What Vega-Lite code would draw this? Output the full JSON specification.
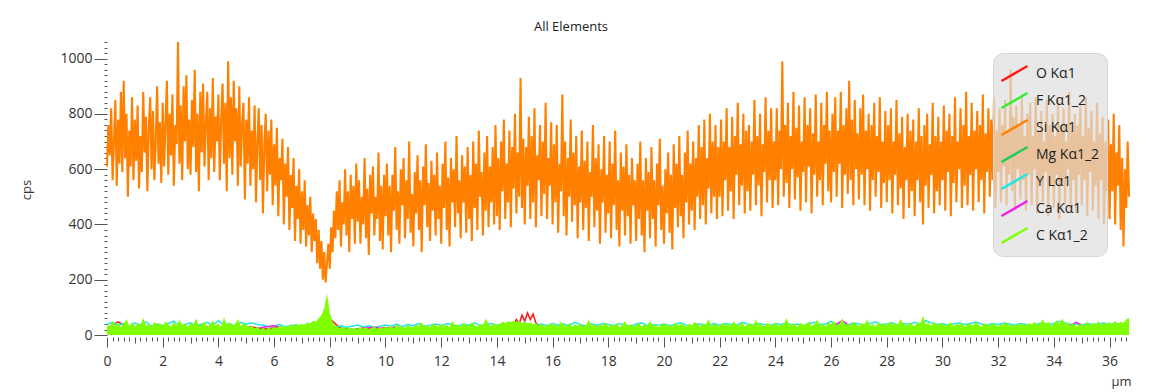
{
"$schema":"https://vega.github.io/schema/vega-lite/v6.json",
"width":1024,"height":295,
"autosize":{"type":"none"},
"padding":{"left":107,"top":42,"right":32,"bottom":55},
"background":"white",
"title":{"text":"All Elements","fontSize":13,"fontWeight":"normal","color":"#222","anchor":"middle","dx":-48,"offset":1,"font":"Open Sans"},
"config":{"view":{"stroke":null},"font":"Open Sans"},
"encoding":{
"x":{"field":"x","type":"quantitative","scale":{"domain":[0,36.77],"nice":false,"zero":false},
"axis":{"title":"µm","titleAnchor":"end","titleFontSize":13,"titleFontWeight":"normal","titleColor":"#333","titlePadding":7,"tickCount":200,"labelOverlap":false,"labelFlush":false,"domain":false,"grid":false,
"labelExpr":"abs(datum.value/2 - round(datum.value/2)) < 0.001 ? format(datum.value, 'd') : ''",
"tickSize":{"condition":[{"test":"abs(datum.value/2 - round(datum.value/2)) < 0.001","value":10},{"test":"abs(datum.value - round(datum.value)) < 0.001","value":6}],"value":4},
"tickColor":"#555","labelFontSize":14,"labelColor":"#333","labelPadding":7}},
"y":{"field":"y","type":"quantitative","scale":{"domain":[-7,1060],"nice":false,"zero":false},
"axis":{"title":"cps","titleFontSize":13,"titleFontWeight":"normal","titleColor":"#333","titlePadding":26,"tickCount":50,"labelOverlap":false,"domain":false,"grid":false,
"labelExpr":"datum.value % 200 === 0 ? format(datum.value,'d') : ''",
"tickSize":{"condition":{"test":"datum.value % 200 === 0","value":13},"value":3},
"tickColor":"#555","labelFontSize":14,"labelColor":"#333","labelPadding":2}}
},
"layer":[
{"data":{"values":[{"x":0,"y":22},{"x":1,"y":18},{"x":2,"y":26},{"x":3,"y":20},{"x":4,"y":24},{"x":5,"y":16},{"x":6,"y":22},{"x":7,"y":18},{"x":8,"y":28},{"x":9,"y":20},{"x":10,"y":16},{"x":11,"y":22},{"x":12,"y":18},{"x":13,"y":24},{"x":14,"y":20},{"x":15,"y":26},{"x":16,"y":18},{"x":17,"y":22},{"x":18,"y":20},{"x":19,"y":24},{"x":20,"y":16},{"x":21,"y":22},{"x":22,"y":26},{"x":23,"y":18},{"x":24,"y":24},{"x":25,"y":20},{"x":26,"y":22},{"x":27,"y":18},{"x":28,"y":26},{"x":29,"y":20},{"x":30,"y":24},{"x":31,"y":18},{"x":32,"y":22},{"x":33,"y":20},{"x":34,"y":26},{"x":35,"y":18},{"x":36,"y":24}]},
"mark":{"type":"line","strokeWidth":1.5},
"encoding":{"color":{"datum":"F Kα1_2","type":"nominal",
"scale":{"domain":["O Kα1","F Kα1_2","Si Kα1","Mg Kα1_2","Y Lα1","Ca Kα1","C Kα1_2"],"range":["#ff1a1a","#33ee33","#ff8000","#22cc55","#22e5e5","#ee22ee","#7fff00"]},
"legend":{"title":null,"orient":"none","legendX":886,"legendY":11,"padding":7,"cornerRadius":10,"fillColor":"rgba(222,222,222,0.7)","strokeColor":"#d6d6d6","labelFontSize":14,"labelColor":"#222","labelFont":"Open Sans","symbolType":"M-1,0.58L1,-0.58","symbolSize":676,"symbolStrokeWidth":2.5,"labelOffset":7,"clipHeight":27,"rowPadding":0,
"encode":{"symbols":{"update":{"stroke":{"scale":"color","field":"value"},"fill":{"value":"transparent"},"strokeWidth":{"value":2.5}}}}}}}},
{"data":{"values":[{"x":0,"y":18},{"x":1,"y":24},{"x":2,"y":20},{"x":3,"y":16},{"x":4,"y":22},{"x":5,"y":26},{"x":6,"y":18},{"x":7,"y":20},{"x":8,"y":30},{"x":9,"y":16},{"x":10,"y":20},{"x":11,"y":18},{"x":12,"y":24},{"x":13,"y":20},{"x":14,"y":22},{"x":15,"y":18},{"x":16,"y":26},{"x":17,"y":20},{"x":18,"y":16},{"x":19,"y":22},{"x":20,"y":24},{"x":21,"y":18},{"x":22,"y":20},{"x":23,"y":26},{"x":24,"y":18},{"x":25,"y":22},{"x":26,"y":20},{"x":27,"y":24},{"x":28,"y":18},{"x":29,"y":22},{"x":30,"y":26},{"x":31,"y":20},{"x":32,"y":18},{"x":33,"y":24},{"x":34,"y":20},{"x":35,"y":22},{"x":36,"y":18}]},
"mark":{"type":"line","strokeWidth":1.5},
"encoding":{"color":{"datum":"Mg Kα1_2","type":"nominal"}}},
{"data":{"values":[{"x":0,"y":24},{"x":0.4,"y":48},{"x":0.8,"y":22},{"x":1.2,"y":30},{"x":1.6,"y":18},{"x":2,"y":26},{"x":2.4,"y":20},{"x":2.8,"y":28},{"x":3.2,"y":22},{"x":3.6,"y":30},{"x":4,"y":18},{"x":4.4,"y":26},{"x":4.8,"y":24},{"x":5.2,"y":30},{"x":5.6,"y":20},{"x":6,"y":26},{"x":6.4,"y":22},{"x":6.8,"y":28},{"x":7.2,"y":30},{"x":7.6,"y":40},{"x":8,"y":60},{"x":8.4,"y":22},{"x":8.8,"y":18},{"x":9.2,"y":24},{"x":9.6,"y":20},{"x":10,"y":26},{"x":10.4,"y":22},{"x":10.8,"y":18},{"x":11.2,"y":24},{"x":11.6,"y":20},{"x":12,"y":26},{"x":12.4,"y":22},{"x":12.8,"y":28},{"x":13.2,"y":20},{"x":13.6,"y":24},{"x":14,"y":30},{"x":14.4,"y":34},{"x":14.5,"y":44},{"x":14.6,"y":38},{"x":14.7,"y":56},{"x":14.8,"y":40},{"x":14.9,"y":72},{"x":15,"y":50},{"x":15.1,"y":80},{"x":15.2,"y":56},{"x":15.3,"y":76},{"x":15.4,"y":44},{"x":15.5,"y":34},{"x":15.6,"y":28},{"x":16,"y":22},{"x":16.4,"y":26},{"x":16.8,"y":20},{"x":17.2,"y":24},{"x":17.6,"y":28},{"x":18,"y":22},{"x":18.4,"y":18},{"x":18.8,"y":26},{"x":19.2,"y":20},{"x":19.6,"y":24},{"x":20,"y":22},{"x":20.4,"y":28},{"x":20.8,"y":20},{"x":21.2,"y":24},{"x":21.6,"y":18},{"x":22,"y":26},{"x":22.4,"y":22},{"x":22.8,"y":28},{"x":23.2,"y":20},{"x":23.6,"y":24},{"x":24,"y":22},{"x":24.4,"y":26},{"x":24.8,"y":20},{"x":25.2,"y":28},{"x":25.6,"y":22},{"x":26,"y":24},{"x":26.4,"y":20},{"x":26.8,"y":26},{"x":27.2,"y":22},{"x":27.6,"y":28},{"x":28,"y":20},{"x":28.4,"y":24},{"x":28.8,"y":22},{"x":29.2,"y":26},{"x":29.6,"y":20},{"x":30,"y":24},{"x":30.4,"y":28},{"x":30.8,"y":22},{"x":31.2,"y":26},{"x":31.6,"y":20},{"x":32,"y":24},{"x":32.4,"y":22},{"x":32.8,"y":28},{"x":33.2,"y":20},{"x":33.6,"y":26},{"x":34,"y":22},{"x":34.4,"y":24},{"x":34.8,"y":20},{"x":35.2,"y":26},{"x":35.6,"y":22},{"x":36,"y":24},{"x":36.4,"y":20}]},
"mark":{"type":"line","strokeWidth":1.5},
"encoding":{"color":{"datum":"O Kα1","type":"nominal"}}},
{"data":{"values":[{"x":0,"y":38},{"x":0.2,"y":46},{"x":0.4,"y":34},{"x":0.6,"y":42},{"x":0.8,"y":30},{"x":1,"y":44},{"x":1.2,"y":36},{"x":1.4,"y":48},{"x":1.6,"y":32},{"x":1.8,"y":40},{"x":2,"y":34},{"x":2.2,"y":42},{"x":2.4,"y":50},{"x":2.6,"y":32},{"x":2.8,"y":38},{"x":3,"y":44},{"x":3.2,"y":30},{"x":3.4,"y":40},{"x":3.6,"y":46},{"x":3.8,"y":34},{"x":4,"y":52},{"x":4.2,"y":36},{"x":4.4,"y":42},{"x":4.6,"y":30},{"x":4.8,"y":46},{"x":5,"y":40},{"x":5.2,"y":44},{"x":5.4,"y":38},{"x":5.6,"y":36},{"x":5.8,"y":30},{"x":6,"y":32},{"x":6.2,"y":38},{"x":6.4,"y":30},{"x":6.6,"y":34},{"x":6.8,"y":36},{"x":7,"y":32},{"x":7.2,"y":40},{"x":7.4,"y":38},{"x":7.6,"y":44},{"x":7.8,"y":50},{"x":8,"y":38},{"x":8.2,"y":30},{"x":8.4,"y":34},{"x":8.6,"y":28},{"x":8.8,"y":32},{"x":9,"y":36},{"x":9.2,"y":30},{"x":9.4,"y":34},{"x":9.6,"y":28},{"x":9.8,"y":32},{"x":10,"y":36},{"x":10.2,"y":32},{"x":10.4,"y":40},{"x":10.6,"y":30},{"x":10.8,"y":38},{"x":11,"y":34},{"x":11.2,"y":42},{"x":11.4,"y":32},{"x":11.6,"y":36},{"x":11.8,"y":40},{"x":12,"y":34},{"x":12.2,"y":42},{"x":12.4,"y":38},{"x":12.6,"y":32},{"x":12.8,"y":40},{"x":13,"y":36},{"x":13.2,"y":44},{"x":13.4,"y":34},{"x":13.6,"y":38},{"x":13.8,"y":42},{"x":14,"y":36},{"x":14.2,"y":40},{"x":14.4,"y":38},{"x":14.6,"y":42},{"x":14.8,"y":34},{"x":15,"y":38},{"x":15.2,"y":32},{"x":15.4,"y":36},{"x":15.6,"y":40},{"x":15.8,"y":34},{"x":16,"y":42},{"x":16.2,"y":36},{"x":16.4,"y":40},{"x":16.6,"y":34},{"x":16.8,"y":46},{"x":17,"y":38},{"x":17.2,"y":32},{"x":17.4,"y":40},{"x":17.6,"y":36},{"x":17.8,"y":42},{"x":18,"y":38},{"x":18.2,"y":34},{"x":18.4,"y":42},{"x":18.6,"y":36},{"x":18.8,"y":32},{"x":19,"y":40},{"x":19.2,"y":44},{"x":19.4,"y":34},{"x":19.6,"y":38},{"x":19.8,"y":36},{"x":20,"y":40},{"x":20.2,"y":34},{"x":20.4,"y":38},{"x":20.6,"y":44},{"x":20.8,"y":36},{"x":21,"y":32},{"x":21.2,"y":40},{"x":21.4,"y":38},{"x":21.6,"y":34},{"x":21.8,"y":42},{"x":22,"y":36},{"x":22.2,"y":42},{"x":22.4,"y":38},{"x":22.6,"y":34},{"x":22.8,"y":46},{"x":23,"y":40},{"x":23.2,"y":36},{"x":23.4,"y":42},{"x":23.6,"y":38},{"x":23.8,"y":34},{"x":24,"y":42},{"x":24.2,"y":38},{"x":24.4,"y":44},{"x":24.6,"y":36},{"x":24.8,"y":40},{"x":25,"y":34},{"x":25.2,"y":42},{"x":25.4,"y":46},{"x":25.6,"y":38},{"x":25.8,"y":40},{"x":26,"y":50},{"x":26.2,"y":38},{"x":26.4,"y":42},{"x":26.6,"y":36},{"x":26.8,"y":44},{"x":27,"y":40},{"x":27.2,"y":34},{"x":27.4,"y":42},{"x":27.6,"y":48},{"x":27.8,"y":38},{"x":28,"y":40},{"x":28.2,"y":44},{"x":28.4,"y":36},{"x":28.6,"y":42},{"x":28.8,"y":38},{"x":29,"y":46},{"x":29.2,"y":40},{"x":29.4,"y":52},{"x":29.6,"y":44},{"x":29.8,"y":38},{"x":30,"y":42},{"x":30.2,"y":36},{"x":30.4,"y":40},{"x":30.6,"y":44},{"x":30.8,"y":38},{"x":31,"y":42},{"x":31.2,"y":46},{"x":31.4,"y":40},{"x":31.6,"y":36},{"x":31.8,"y":42},{"x":32,"y":38},{"x":32.2,"y":44},{"x":32.4,"y":40},{"x":32.6,"y":36},{"x":32.8,"y":42},{"x":33,"y":38},{"x":33.2,"y":34},{"x":33.4,"y":40},{"x":33.6,"y":44},{"x":33.8,"y":38},{"x":34,"y":42},{"x":34.2,"y":50},{"x":34.4,"y":44},{"x":34.6,"y":38},{"x":34.8,"y":40},{"x":35,"y":36},{"x":35.2,"y":42},{"x":35.4,"y":38},{"x":35.6,"y":40},{"x":35.8,"y":44},{"x":36,"y":38},{"x":36.2,"y":42},{"x":36.4,"y":40},{"x":36.6,"y":44}]},
"mark":{"type":"line","strokeWidth":1.5},
"encoding":{"color":{"datum":"Y Lα1","type":"nominal"}}},
{"data":{"values":[{"x":0,"y":20},{"x":0.4,"y":26},{"x":0.8,"y":18},{"x":1.2,"y":30},{"x":1.6,"y":22},{"x":2,"y":28},{"x":2.4,"y":16},{"x":2.8,"y":24},{"x":3.2,"y":30},{"x":3.6,"y":20},{"x":4,"y":26},{"x":4.4,"y":22},{"x":4.8,"y":30},{"x":5.2,"y":18},{"x":5.6,"y":28},{"x":6,"y":34},{"x":6.4,"y":24},{"x":6.8,"y":20},{"x":7.2,"y":26},{"x":7.6,"y":22},{"x":8,"y":20},{"x":8.4,"y":24},{"x":8.8,"y":18},{"x":9.2,"y":26},{"x":9.6,"y":28},{"x":10,"y":22},{"x":10.4,"y":30},{"x":10.8,"y":20},{"x":11.2,"y":24},{"x":11.6,"y":18},{"x":12,"y":24},{"x":12.4,"y":20},{"x":12.8,"y":28},{"x":13.2,"y":22},{"x":13.6,"y":18},{"x":14,"y":26},{"x":14.4,"y":20},{"x":14.8,"y":24},{"x":15.2,"y":28},{"x":15.6,"y":22},{"x":16,"y":26},{"x":16.4,"y":20},{"x":16.8,"y":24},{"x":17.2,"y":30},{"x":17.6,"y":22},{"x":18,"y":18},{"x":18.4,"y":26},{"x":18.8,"y":24},{"x":19.2,"y":20},{"x":19.6,"y":28},{"x":20,"y":22},{"x":20.4,"y":26},{"x":20.8,"y":20},{"x":21.2,"y":24},{"x":21.6,"y":30},{"x":22,"y":22},{"x":22.4,"y":26},{"x":22.8,"y":18},{"x":23.2,"y":24},{"x":23.6,"y":28},{"x":24,"y":20},{"x":24.4,"y":26},{"x":24.8,"y":24},{"x":25.2,"y":28},{"x":25.6,"y":22},{"x":26,"y":28},{"x":26.4,"y":52},{"x":26.8,"y":24},{"x":27.2,"y":30},{"x":27.6,"y":22},{"x":28,"y":26},{"x":28.4,"y":20},{"x":28.8,"y":28},{"x":29.2,"y":24},{"x":29.6,"y":22},{"x":30,"y":30},{"x":30.4,"y":26},{"x":30.8,"y":20},{"x":31.2,"y":24},{"x":31.6,"y":28},{"x":32,"y":22},{"x":32.4,"y":26},{"x":32.8,"y":30},{"x":33.2,"y":20},{"x":33.6,"y":24},{"x":34,"y":28},{"x":34.4,"y":22},{"x":34.8,"y":46},{"x":35.2,"y":26},{"x":35.6,"y":20},{"x":36,"y":24},{"x":36.4,"y":28}]},
"mark":{"type":"line","strokeWidth":1.5},
"encoding":{"color":{"datum":"Ca Kα1","type":"nominal"}}},
{"data":{"values":[{"x":0,"y":38},{"x":0.1,"y":30},{"x":0.2,"y":52},{"x":0.3,"y":34},{"x":0.4,"y":44},{"x":0.5,"y":28},{"x":0.6,"y":40},{"x":0.7,"y":58},{"x":0.8,"y":32},{"x":0.9,"y":46},
{"x":1,"y":30},{"x":1.1,"y":42},{"x":1.2,"y":36},{"x":1.3,"y":62},{"x":1.4,"y":34},{"x":1.5,"y":40},{"x":1.6,"y":28},{"x":1.7,"y":48},{"x":1.8,"y":36},{"x":1.9,"y":44},
{"x":2,"y":32},{"x":2.1,"y":50},{"x":2.2,"y":38},{"x":2.3,"y":30},{"x":2.4,"y":46},{"x":2.5,"y":34},{"x":2.6,"y":56},{"x":2.7,"y":36},{"x":2.8,"y":42},{"x":2.9,"y":30},
{"x":3,"y":44},{"x":3.1,"y":36},{"x":3.2,"y":60},{"x":3.3,"y":32},{"x":3.4,"y":40},{"x":3.5,"y":48},{"x":3.6,"y":30},{"x":3.7,"y":38},{"x":3.8,"y":54},{"x":3.9,"y":34},
{"x":4,"y":42},{"x":4.1,"y":30},{"x":4.2,"y":64},{"x":4.3,"y":36},{"x":4.4,"y":46},{"x":4.5,"y":34},{"x":4.6,"y":40},{"x":4.7,"y":58},{"x":4.8,"y":32},{"x":4.9,"y":44},
{"x":5,"y":36},{"x":5.1,"y":28},{"x":5.2,"y":34},{"x":5.3,"y":24},{"x":5.4,"y":30},{"x":5.5,"y":20},{"x":5.6,"y":26},{"x":5.7,"y":18},{"x":5.8,"y":28},{"x":5.9,"y":22},
{"x":6,"y":30},{"x":6.1,"y":24},{"x":6.2,"y":36},{"x":6.3,"y":28},{"x":6.4,"y":34},{"x":6.5,"y":30},{"x":6.6,"y":40},{"x":6.7,"y":32},{"x":6.8,"y":38},{"x":6.9,"y":36},
{"x":7,"y":40},{"x":7.1,"y":36},{"x":7.2,"y":46},{"x":7.3,"y":42},{"x":7.4,"y":52},{"x":7.5,"y":48},{"x":7.6,"y":60},{"x":7.7,"y":72},{"x":7.8,"y":96},{"x":7.9,"y":150},
{"x":8,"y":80},{"x":8.1,"y":50},{"x":8.2,"y":34},{"x":8.3,"y":28},{"x":8.4,"y":24},{"x":8.5,"y":30},{"x":8.6,"y":22},{"x":8.7,"y":28},{"x":8.8,"y":20},{"x":8.9,"y":26},
{"x":9,"y":22},{"x":9.1,"y":30},{"x":9.2,"y":24},{"x":9.3,"y":28},{"x":9.4,"y":20},{"x":9.5,"y":26},{"x":9.6,"y":32},{"x":9.7,"y":22},{"x":9.8,"y":28},{"x":9.9,"y":24},
{"x":10,"y":30},{"x":10.1,"y":26},{"x":10.2,"y":34},{"x":10.3,"y":24},{"x":10.4,"y":40},{"x":10.5,"y":28},{"x":10.6,"y":32},{"x":10.7,"y":26},{"x":10.8,"y":36},{"x":10.9,"y":30},
{"x":11,"y":28},{"x":11.1,"y":38},{"x":11.2,"y":32},{"x":11.3,"y":46},{"x":11.4,"y":30},{"x":11.5,"y":36},{"x":11.6,"y":28},{"x":11.7,"y":42},{"x":11.8,"y":34},{"x":11.9,"y":30},
{"x":12,"y":40},{"x":12.1,"y":32},{"x":12.2,"y":36},{"x":12.3,"y":28},{"x":12.4,"y":52},{"x":12.5,"y":34},{"x":12.6,"y":38},{"x":12.7,"y":30},{"x":12.8,"y":44},{"x":12.9,"y":36},
{"x":13,"y":32},{"x":13.1,"y":46},{"x":13.2,"y":36},{"x":13.3,"y":30},{"x":13.4,"y":40},{"x":13.5,"y":34},{"x":13.6,"y":60},{"x":13.7,"y":38},{"x":13.8,"y":32},{"x":13.9,"y":42},
{"x":14,"y":36},{"x":14.1,"y":40},{"x":14.2,"y":48},{"x":14.3,"y":44},{"x":14.4,"y":50},{"x":14.5,"y":46},{"x":14.6,"y":52},{"x":14.7,"y":48},{"x":14.8,"y":50},{"x":14.9,"y":44},
{"x":15,"y":48},{"x":15.1,"y":42},{"x":15.2,"y":46},{"x":15.3,"y":38},{"x":15.4,"y":44},{"x":15.5,"y":34},{"x":15.6,"y":40},{"x":15.7,"y":30},{"x":15.8,"y":36},{"x":15.9,"y":42},
{"x":16,"y":34},{"x":16.1,"y":40},{"x":16.2,"y":30},{"x":16.3,"y":48},{"x":16.4,"y":36},{"x":16.5,"y":32},{"x":16.6,"y":44},{"x":16.7,"y":30},{"x":16.8,"y":38},{"x":16.9,"y":34},
{"x":17,"y":42},{"x":17.1,"y":30},{"x":17.2,"y":36},{"x":17.3,"y":56},{"x":17.4,"y":32},{"x":17.5,"y":40},{"x":17.6,"y":28},{"x":17.7,"y":38},{"x":17.8,"y":34},{"x":17.9,"y":46},
{"x":18,"y":30},{"x":18.1,"y":38},{"x":18.2,"y":34},{"x":18.3,"y":42},{"x":18.4,"y":28},{"x":18.5,"y":36},{"x":18.6,"y":50},{"x":18.7,"y":32},{"x":18.8,"y":40},{"x":18.9,"y":30},
{"x":19,"y":36},{"x":19.1,"y":44},{"x":19.2,"y":30},{"x":19.3,"y":38},{"x":19.4,"y":34},{"x":19.5,"y":52},{"x":19.6,"y":32},{"x":19.7,"y":40},{"x":19.8,"y":28},{"x":19.9,"y":36},
{"x":20,"y":44},{"x":20.1,"y":32},{"x":20.2,"y":38},{"x":20.3,"y":30},{"x":20.4,"y":46},{"x":20.5,"y":34},{"x":20.6,"y":40},{"x":20.7,"y":36},{"x":20.8,"y":30},{"x":20.9,"y":42},
{"x":21,"y":34},{"x":21.1,"y":48},{"x":21.2,"y":38},{"x":21.3,"y":30},{"x":21.4,"y":42},{"x":21.5,"y":36},{"x":21.6,"y":58},{"x":21.7,"y":32},{"x":21.8,"y":40},{"x":21.9,"y":36},
{"x":22,"y":30},{"x":22.1,"y":44},{"x":22.2,"y":36},{"x":22.3,"y":40},{"x":22.4,"y":32},{"x":22.5,"y":50},{"x":22.6,"y":38},{"x":22.7,"y":34},{"x":22.8,"y":46},{"x":22.9,"y":30},
{"x":23,"y":38},{"x":23.1,"y":42},{"x":23.2,"y":34},{"x":23.3,"y":56},{"x":23.4,"y":36},{"x":23.5,"y":40},{"x":23.6,"y":30},{"x":23.7,"y":44},{"x":23.8,"y":38},{"x":23.9,"y":34},
{"x":24,"y":46},{"x":24.1,"y":32},{"x":24.2,"y":40},{"x":24.3,"y":36},{"x":24.4,"y":62},{"x":24.5,"y":34},{"x":24.6,"y":42},{"x":24.7,"y":38},{"x":24.8,"y":30},{"x":24.9,"y":44},
{"x":25,"y":36},{"x":25.1,"y":40},{"x":25.2,"y":48},{"x":25.3,"y":32},{"x":25.4,"y":38},{"x":25.5,"y":56},{"x":25.6,"y":34},{"x":25.7,"y":42},{"x":25.8,"y":30},{"x":25.9,"y":46},
{"x":26,"y":38},{"x":26.1,"y":52},{"x":26.2,"y":34},{"x":26.3,"y":40},{"x":26.4,"y":60},{"x":26.5,"y":36},{"x":26.6,"y":42},{"x":26.7,"y":34},{"x":26.8,"y":48},{"x":26.9,"y":38},
{"x":27,"y":32},{"x":27.1,"y":44},{"x":27.2,"y":38},{"x":27.3,"y":56},{"x":27.4,"y":34},{"x":27.5,"y":40},{"x":27.6,"y":30},{"x":27.7,"y":46},{"x":27.8,"y":36},{"x":27.9,"y":42},
{"x":28,"y":34},{"x":28.1,"y":48},{"x":28.2,"y":38},{"x":28.3,"y":42},{"x":28.4,"y":36},{"x":28.5,"y":58},{"x":28.6,"y":40},{"x":28.7,"y":34},{"x":28.8,"y":44},{"x":28.9,"y":38},
{"x":29,"y":32},{"x":29.1,"y":46},{"x":29.2,"y":40},{"x":29.3,"y":70},{"x":29.4,"y":38},{"x":29.5,"y":44},{"x":29.6,"y":34},{"x":29.7,"y":48},{"x":29.8,"y":36},{"x":29.9,"y":40},
{"x":30,"y":42},{"x":30.1,"y":34},{"x":30.2,"y":38},{"x":30.3,"y":46},{"x":30.4,"y":32},{"x":30.5,"y":40},{"x":30.6,"y":36},{"x":30.7,"y":44},{"x":30.8,"y":30},{"x":30.9,"y":38},
{"x":31,"y":40},{"x":31.1,"y":34},{"x":31.2,"y":46},{"x":31.3,"y":36},{"x":31.4,"y":30},{"x":31.5,"y":42},{"x":31.6,"y":38},{"x":31.7,"y":34},{"x":31.8,"y":44},{"x":31.9,"y":36},
{"x":32,"y":32},{"x":32.1,"y":40},{"x":32.2,"y":36},{"x":32.3,"y":46},{"x":32.4,"y":34},{"x":32.5,"y":38},{"x":32.6,"y":30},{"x":32.7,"y":42},{"x":32.8,"y":36},{"x":32.9,"y":40},
{"x":33,"y":34},{"x":33.1,"y":44},{"x":33.2,"y":38},{"x":33.3,"y":48},{"x":33.4,"y":36},{"x":33.5,"y":42},{"x":33.6,"y":56},{"x":33.7,"y":40},{"x":33.8,"y":48},{"x":33.9,"y":34},
{"x":34,"y":42},{"x":34.1,"y":54},{"x":34.2,"y":40},{"x":34.3,"y":60},{"x":34.4,"y":38},{"x":34.5,"y":46},{"x":34.6,"y":34},{"x":34.7,"y":44},{"x":34.8,"y":30},{"x":34.9,"y":38},
{"x":35,"y":40},{"x":35.1,"y":34},{"x":35.2,"y":48},{"x":35.3,"y":36},{"x":35.4,"y":42},{"x":35.5,"y":38},{"x":35.6,"y":50},{"x":35.7,"y":36},{"x":35.8,"y":44},{"x":35.9,"y":40},
{"x":36,"y":46},{"x":36.1,"y":38},{"x":36.2,"y":52},{"x":36.3,"y":40},{"x":36.4,"y":48},{"x":36.5,"y":44},{"x":36.6,"y":56},{"x":36.7,"y":62}]},
"mark":{"type":"area"},
"encoding":{"color":{"datum":"C Kα1_2","type":"nominal"}}},
{"data":{"values":[
{"x":0,"y":610},{"x":0.05,"y":760},{"x":0.1,"y":650},{"x":0.15,"y":820},{"x":0.2,"y":560},{"x":0.25,"y":700},{"x":0.3,"y":850},{"x":0.35,"y":540},{"x":0.4,"y":780},{"x":0.45,"y":620},{"x":0.5,"y":880},{"x":0.55,"y":590},{"x":0.6,"y":920},{"x":0.65,"y":640},{"x":0.7,"y":800},{"x":0.75,"y":500},{"x":0.8,"y":740},{"x":0.85,"y":610},{"x":0.9,"y":860},{"x":0.95,"y":560},
{"x":1,"y":780},{"x":1.05,"y":630},{"x":1.1,"y":830},{"x":1.15,"y":530},{"x":1.2,"y":720},{"x":1.25,"y":590},{"x":1.3,"y":880},{"x":1.35,"y":660},{"x":1.4,"y":790},{"x":1.45,"y":520},{"x":1.5,"y":750},{"x":1.55,"y":860},{"x":1.6,"y":600},{"x":1.65,"y":810},{"x":1.7,"y":560},{"x":1.75,"y":700},{"x":1.8,"y":900},{"x":1.85,"y":620},{"x":1.9,"y":770},{"x":1.95,"y":550},
{"x":2,"y":840},{"x":2.05,"y":610},{"x":2.1,"y":760},{"x":2.15,"y":920},{"x":2.2,"y":580},{"x":2.25,"y":800},{"x":2.3,"y":650},{"x":2.35,"y":870},{"x":2.4,"y":540},{"x":2.45,"y":760},{"x":2.5,"y":690},{"x":2.55,"y":1060},{"x":2.6,"y":620},{"x":2.65,"y":830},{"x":2.7,"y":560},{"x":2.75,"y":900},{"x":2.8,"y":700},{"x":2.85,"y":940},{"x":2.9,"y":600},{"x":2.95,"y":780},
{"x":3,"y":580},{"x":3.05,"y":850},{"x":3.1,"y":680},{"x":3.15,"y":960},{"x":3.2,"y":590},{"x":3.25,"y":800},{"x":3.3,"y":520},{"x":3.35,"y":880},{"x":3.4,"y":660},{"x":3.45,"y":910},{"x":3.5,"y":610},{"x":3.55,"y":760},{"x":3.6,"y":880},{"x":3.65,"y":560},{"x":3.7,"y":820},{"x":3.75,"y":640},{"x":3.8,"y":930},{"x":3.85,"y":590},{"x":3.9,"y":790},{"x":3.95,"y":700},
{"x":4,"y":870},{"x":4.05,"y":560},{"x":4.1,"y":780},{"x":4.15,"y":910},{"x":4.2,"y":620},{"x":4.25,"y":840},{"x":4.3,"y":520},{"x":4.35,"y":990},{"x":4.4,"y":640},{"x":4.45,"y":860},{"x":4.5,"y":580},{"x":4.55,"y":920},{"x":4.6,"y":700},{"x":4.65,"y":820},{"x":4.7,"y":540},{"x":4.75,"y":900},{"x":4.8,"y":610},{"x":4.85,"y":760},{"x":4.9,"y":840},{"x":4.95,"y":490},
{"x":5,"y":780},{"x":5.05,"y":620},{"x":5.1,"y":860},{"x":5.15,"y":540},{"x":5.2,"y":740},{"x":5.25,"y":600},{"x":5.3,"y":830},{"x":5.35,"y":480},{"x":5.4,"y":700},{"x":5.45,"y":820},{"x":5.5,"y":560},{"x":5.55,"y":760},{"x":5.6,"y":440},{"x":5.65,"y":690},{"x":5.7,"y":800},{"x":5.75,"y":520},{"x":5.8,"y":740},{"x":5.85,"y":580},{"x":5.9,"y":780},{"x":5.95,"y":470},
{"x":6,"y":690},{"x":6.05,"y":540},{"x":6.1,"y":750},{"x":6.15,"y":430},{"x":6.2,"y":640},{"x":6.25,"y":560},{"x":6.3,"y":710},{"x":6.35,"y":400},{"x":6.4,"y":620},{"x":6.45,"y":500},{"x":6.5,"y":680},{"x":6.55,"y":380},{"x":6.6,"y":580},{"x":6.65,"y":460},{"x":6.7,"y":640},{"x":6.75,"y":340},{"x":6.8,"y":540},{"x":6.85,"y":420},{"x":6.9,"y":600},{"x":6.95,"y":330},
{"x":7,"y":520},{"x":7.05,"y":380},{"x":7.1,"y":560},{"x":7.15,"y":320},{"x":7.2,"y":470},{"x":7.25,"y":360},{"x":7.3,"y":500},{"x":7.35,"y":300},{"x":7.4,"y":440},{"x":7.45,"y":340},{"x":7.5,"y":420},{"x":7.55,"y":260},{"x":7.6,"y":380},{"x":7.65,"y":240},{"x":7.7,"y":340},{"x":7.75,"y":200},{"x":7.8,"y":300},{"x":7.85,"y":190},{"x":7.9,"y":260},{"x":7.95,"y":330},
{"x":8,"y":240},{"x":8.05,"y":390},{"x":8.1,"y":300},{"x":8.15,"y":450},{"x":8.2,"y":350},{"x":8.25,"y":520},{"x":8.3,"y":380},{"x":8.35,"y":560},{"x":8.4,"y":320},{"x":8.45,"y":480},{"x":8.5,"y":400},{"x":8.55,"y":600},{"x":8.6,"y":360},{"x":8.65,"y":520},{"x":8.7,"y":300},{"x":8.75,"y":580},{"x":8.8,"y":420},{"x":8.85,"y":540},{"x":8.9,"y":330},{"x":8.95,"y":620},
{"x":9,"y":410},{"x":9.05,"y":560},{"x":9.1,"y":330},{"x":9.15,"y":500},{"x":9.2,"y":400},{"x":9.25,"y":640},{"x":9.3,"y":350},{"x":9.35,"y":530},{"x":9.4,"y":290},{"x":9.45,"y":580},{"x":9.5,"y":440},{"x":9.55,"y":610},{"x":9.6,"y":360},{"x":9.65,"y":500},{"x":9.7,"y":420},{"x":9.75,"y":660},{"x":9.8,"y":340},{"x":9.85,"y":540},{"x":9.9,"y":310},{"x":9.95,"y":580},
{"x":10,"y":430},{"x":10.05,"y":620},{"x":10.1,"y":360},{"x":10.15,"y":540},{"x":10.2,"y":300},{"x":10.25,"y":580},{"x":10.3,"y":450},{"x":10.35,"y":680},{"x":10.4,"y":380},{"x":10.45,"y":520},{"x":10.5,"y":330},{"x":10.55,"y":600},{"x":10.6,"y":470},{"x":10.65,"y":640},{"x":10.7,"y":350},{"x":10.75,"y":560},{"x":10.8,"y":420},{"x":10.85,"y":700},{"x":10.9,"y":370},{"x":10.95,"y":510},
{"x":11,"y":320},{"x":11.05,"y":590},{"x":11.1,"y":440},{"x":11.15,"y":650},{"x":11.2,"y":380},{"x":11.25,"y":560},{"x":11.3,"y":300},{"x":11.35,"y":610},{"x":11.4,"y":470},{"x":11.45,"y":690},{"x":11.5,"y":390},{"x":11.55,"y":550},{"x":11.6,"y":340},{"x":11.65,"y":630},{"x":11.7,"y":450},{"x":11.75,"y":580},{"x":11.8,"y":360},{"x":11.85,"y":660},{"x":11.9,"y":420},{"x":11.95,"y":540},
{"x":12,"y":330},{"x":12.05,"y":620},{"x":12.1,"y":460},{"x":12.15,"y":700},{"x":12.2,"y":380},{"x":12.25,"y":570},{"x":12.3,"y":320},{"x":12.35,"y":640},{"x":12.4,"y":480},{"x":12.45,"y":600},{"x":12.5,"y":390},{"x":12.55,"y":720},{"x":12.6,"y":440},{"x":12.65,"y":560},{"x":12.7,"y":350},{"x":12.75,"y":650},{"x":12.8,"y":480},{"x":12.85,"y":610},{"x":12.9,"y":370},{"x":12.95,"y":680},
{"x":13,"y":420},{"x":13.05,"y":580},{"x":13.1,"y":340},{"x":13.15,"y":700},{"x":13.2,"y":460},{"x":13.25,"y":620},{"x":13.3,"y":380},{"x":13.35,"y":740},{"x":13.4,"y":500},{"x":13.45,"y":590},{"x":13.5,"y":360},{"x":13.55,"y":660},{"x":13.6,"y":450},{"x":13.65,"y":720},{"x":13.7,"y":390},{"x":13.75,"y":610},{"x":13.8,"y":480},{"x":13.85,"y":680},{"x":13.9,"y":400},{"x":13.95,"y":760},
{"x":14,"y":430},{"x":14.05,"y":640},{"x":14.1,"y":380},{"x":14.15,"y":700},{"x":14.2,"y":520},{"x":14.25,"y":780},{"x":14.3,"y":420},{"x":14.35,"y":620},{"x":14.4,"y":480},{"x":14.45,"y":740},{"x":14.5,"y":390},{"x":14.55,"y":680},{"x":14.6,"y":530},{"x":14.65,"y":800},{"x":14.7,"y":440},{"x":14.75,"y":660},{"x":14.8,"y":500},{"x":14.85,"y":930},{"x":14.9,"y":460},{"x":14.95,"y":710},
{"x":15,"y":400},{"x":15.05,"y":680},{"x":15.1,"y":540},{"x":15.15,"y":790},{"x":15.2,"y":420},{"x":15.25,"y":720},{"x":15.3,"y":480},{"x":15.35,"y":820},{"x":15.4,"y":390},{"x":15.45,"y":650},{"x":15.5,"y":560},{"x":15.55,"y":760},{"x":15.6,"y":430},{"x":15.65,"y":700},{"x":15.7,"y":510},{"x":15.75,"y":840},{"x":15.8,"y":420},{"x":15.85,"y":640},{"x":15.9,"y":540},{"x":15.95,"y":770},
{"x":16,"y":400},{"x":16.05,"y":690},{"x":16.1,"y":480},{"x":16.15,"y":760},{"x":16.2,"y":370},{"x":16.25,"y":620},{"x":16.3,"y":520},{"x":16.35,"y":870},{"x":16.4,"y":430},{"x":16.45,"y":700},{"x":16.5,"y":360},{"x":16.55,"y":640},{"x":16.6,"y":500},{"x":16.65,"y":780},{"x":16.7,"y":410},{"x":16.75,"y":660},{"x":16.8,"y":470},{"x":16.85,"y":720},{"x":16.9,"y":350},{"x":16.95,"y":610},
{"x":17,"y":480},{"x":17.05,"y":740},{"x":17.1,"y":380},{"x":17.15,"y":630},{"x":17.2,"y":460},{"x":17.25,"y":700},{"x":17.3,"y":340},{"x":17.35,"y":590},{"x":17.4,"y":500},{"x":17.45,"y":760},{"x":17.5,"y":390},{"x":17.55,"y":640},{"x":17.6,"y":450},{"x":17.65,"y":690},{"x":17.7,"y":330},{"x":17.75,"y":600},{"x":17.8,"y":480},{"x":17.85,"y":720},{"x":17.9,"y":370},{"x":17.95,"y":580},
{"x":18,"y":440},{"x":18.05,"y":700},{"x":18.1,"y":350},{"x":18.15,"y":620},{"x":18.2,"y":470},{"x":18.25,"y":740},{"x":18.3,"y":380},{"x":18.35,"y":560},{"x":18.4,"y":320},{"x":18.45,"y":660},{"x":18.5,"y":450},{"x":18.55,"y":610},{"x":18.6,"y":360},{"x":18.65,"y":690},{"x":18.7,"y":430},{"x":18.75,"y":580},{"x":18.8,"y":330},{"x":18.85,"y":640},{"x":18.9,"y":470},{"x":18.95,"y":560},
{"x":19,"y":340},{"x":19.05,"y":620},{"x":19.1,"y":420},{"x":19.15,"y":700},{"x":19.2,"y":360},{"x":19.25,"y":560},{"x":19.3,"y":300},{"x":19.35,"y":640},{"x":19.4,"y":450},{"x":19.45,"y":590},{"x":19.5,"y":350},{"x":19.55,"y":680},{"x":19.6,"y":420},{"x":19.65,"y":560},{"x":19.7,"y":320},{"x":19.75,"y":620},{"x":19.8,"y":470},{"x":19.85,"y":710},{"x":19.9,"y":380},{"x":19.95,"y":540},
{"x":20,"y":330},{"x":20.05,"y":600},{"x":20.1,"y":440},{"x":20.15,"y":660},{"x":20.2,"y":370},{"x":20.25,"y":580},{"x":20.3,"y":310},{"x":20.35,"y":690},{"x":20.4,"y":460},{"x":20.45,"y":620},{"x":20.5,"y":390},{"x":20.55,"y":720},{"x":20.6,"y":430},{"x":20.65,"y":580},{"x":20.7,"y":350},{"x":20.75,"y":660},{"x":20.8,"y":480},{"x":20.85,"y":740},{"x":20.9,"y":400},{"x":20.95,"y":620},
{"x":21,"y":450},{"x":21.05,"y":700},{"x":21.1,"y":380},{"x":21.15,"y":640},{"x":21.2,"y":500},{"x":21.25,"y":760},{"x":21.3,"y":420},{"x":21.35,"y":680},{"x":21.4,"y":470},{"x":21.45,"y":780},{"x":21.5,"y":400},{"x":21.55,"y":640},{"x":21.6,"y":530},{"x":21.65,"y":800},{"x":21.7,"y":440},{"x":21.75,"y":700},{"x":21.8,"y":500},{"x":21.85,"y":760},{"x":21.9,"y":420},{"x":21.95,"y":680},
{"x":22,"y":500},{"x":22.05,"y":780},{"x":22.1,"y":430},{"x":22.15,"y":700},{"x":22.2,"y":560},{"x":22.25,"y":820},{"x":22.3,"y":450},{"x":22.35,"y":680},{"x":22.4,"y":520},{"x":22.45,"y":790},{"x":22.5,"y":420},{"x":22.55,"y":720},{"x":22.6,"y":580},{"x":22.65,"y":840},{"x":22.7,"y":470},{"x":22.75,"y":690},{"x":22.8,"y":540},{"x":22.85,"y":800},{"x":22.9,"y":440},{"x":22.95,"y":740},
{"x":23,"y":520},{"x":23.05,"y":760},{"x":23.1,"y":450},{"x":23.15,"y":700},{"x":23.2,"y":580},{"x":23.25,"y":850},{"x":23.3,"y":470},{"x":23.35,"y":720},{"x":23.4,"y":540},{"x":23.45,"y":800},{"x":23.5,"y":430},{"x":23.55,"y":690},{"x":23.6,"y":590},{"x":23.65,"y":860},{"x":23.7,"y":480},{"x":23.75,"y":740},{"x":23.8,"y":560},{"x":23.85,"y":820},{"x":23.9,"y":460},{"x":23.95,"y":700},
{"x":24,"y":560},{"x":24.05,"y":820},{"x":24.1,"y":470},{"x":24.15,"y":740},{"x":24.2,"y":600},{"x":24.25,"y":990},{"x":24.3,"y":500},{"x":24.35,"y":760},{"x":24.4,"y":550},{"x":24.45,"y":840},{"x":24.5,"y":460},{"x":24.55,"y":720},{"x":24.6,"y":600},{"x":24.65,"y":880},{"x":24.7,"y":490},{"x":24.75,"y":750},{"x":24.8,"y":570},{"x":24.85,"y":830},{"x":24.9,"y":450},{"x":24.95,"y":700},
{"x":25,"y":590},{"x":25.05,"y":860},{"x":25.1,"y":480},{"x":25.15,"y":760},{"x":25.2,"y":610},{"x":25.25,"y":820},{"x":25.3,"y":440},{"x":25.35,"y":730},{"x":25.4,"y":580},{"x":25.45,"y":870},{"x":25.5,"y":500},{"x":25.55,"y":700},{"x":25.6,"y":560},{"x":25.65,"y":840},{"x":25.7,"y":470},{"x":25.75,"y":760},{"x":25.8,"y":620},{"x":25.85,"y":880},{"x":25.9,"y":520},{"x":25.95,"y":740},
{"x":26,"y":480},{"x":26.05,"y":800},{"x":26.1,"y":590},{"x":26.15,"y":860},{"x":26.2,"y":500},{"x":26.25,"y":740},{"x":26.3,"y":620},{"x":26.35,"y":880},{"x":26.4,"y":460},{"x":26.45,"y":760},{"x":26.5,"y":580},{"x":26.55,"y":820},{"x":26.6,"y":510},{"x":26.65,"y":920},{"x":26.7,"y":560},{"x":26.75,"y":780},{"x":26.8,"y":470},{"x":26.85,"y":850},{"x":26.9,"y":600},{"x":26.95,"y":730},
{"x":27,"y":490},{"x":27.05,"y":820},{"x":27.1,"y":580},{"x":27.15,"y":870},{"x":27.2,"y":470},{"x":27.25,"y":740},{"x":27.3,"y":600},{"x":27.35,"y":800},{"x":27.4,"y":450},{"x":27.45,"y":760},{"x":27.5,"y":560},{"x":27.55,"y":840},{"x":27.6,"y":500},{"x":27.65,"y":720},{"x":27.7,"y":590},{"x":27.75,"y":860},{"x":27.8,"y":460},{"x":27.85,"y":700},{"x":27.9,"y":550},{"x":27.95,"y":810},
{"x":28,"y":480},{"x":28.05,"y":760},{"x":28.1,"y":560},{"x":28.15,"y":820},{"x":28.2,"y":440},{"x":28.25,"y":700},{"x":28.3,"y":580},{"x":28.35,"y":850},{"x":28.4,"y":470},{"x":28.45,"y":730},{"x":28.5,"y":530},{"x":28.55,"y":790},{"x":28.6,"y":420},{"x":28.65,"y":680},{"x":28.7,"y":560},{"x":28.75,"y":800},{"x":28.8,"y":460},{"x":28.85,"y":740},{"x":28.9,"y":520},{"x":28.95,"y":780},
{"x":29,"y":430},{"x":29.05,"y":700},{"x":29.1,"y":560},{"x":29.15,"y":820},{"x":29.2,"y":480},{"x":29.25,"y":720},{"x":29.3,"y":400},{"x":29.35,"y":760},{"x":29.4,"y":540},{"x":29.45,"y":800},{"x":29.5,"y":460},{"x":29.55,"y":690},{"x":29.6,"y":580},{"x":29.65,"y":840},{"x":29.7,"y":440},{"x":29.75,"y":720},{"x":29.8,"y":520},{"x":29.85,"y":790},{"x":29.9,"y":470},{"x":29.95,"y":700},
{"x":30,"y":560},{"x":30.05,"y":830},{"x":30.1,"y":450},{"x":30.15,"y":740},{"x":30.2,"y":590},{"x":30.25,"y":800},{"x":30.3,"y":430},{"x":30.35,"y":720},{"x":30.4,"y":550},{"x":30.45,"y":860},{"x":30.5,"y":480},{"x":30.55,"y":700},{"x":30.6,"y":600},{"x":30.65,"y":820},{"x":30.7,"y":460},{"x":30.75,"y":760},{"x":30.8,"y":540},{"x":30.85,"y":880},{"x":30.9,"y":470},{"x":30.95,"y":720},
{"x":31,"y":580},{"x":31.05,"y":840},{"x":31.1,"y":450},{"x":31.15,"y":740},{"x":31.2,"y":600},{"x":31.25,"y":810},{"x":31.3,"y":480},{"x":31.35,"y":760},{"x":31.4,"y":560},{"x":31.45,"y":870},{"x":31.5,"y":440},{"x":31.55,"y":730},{"x":31.6,"y":590},{"x":31.65,"y":820},{"x":31.7,"y":500},{"x":31.75,"y":780},{"x":31.8,"y":560},{"x":31.85,"y":860},{"x":31.9,"y":460},{"x":31.95,"y":740},
{"x":32,"y":590},{"x":32.05,"y":820},{"x":32.1,"y":480},{"x":32.15,"y":760},{"x":32.2,"y":610},{"x":32.25,"y":850},{"x":32.3,"y":470},{"x":32.35,"y":740},{"x":32.4,"y":580},{"x":32.45,"y":960},{"x":32.5,"y":520},{"x":32.55,"y":790},{"x":32.6,"y":460},{"x":32.65,"y":830},{"x":32.7,"y":600},{"x":32.75,"y":760},{"x":32.8,"y":490},{"x":32.85,"y":870},{"x":32.9,"y":560},{"x":32.95,"y":720},
{"x":33,"y":450},{"x":33.05,"y":800},{"x":33.1,"y":580},{"x":33.15,"y":840},{"x":33.2,"y":470},{"x":33.25,"y":720},{"x":33.3,"y":600},{"x":33.35,"y":860},{"x":33.4,"y":440},{"x":33.45,"y":740},{"x":33.5,"y":560},{"x":33.55,"y":810},{"x":33.6,"y":480},{"x":33.65,"y":700},{"x":33.7,"y":590},{"x":33.75,"y":850},{"x":33.8,"y":430},{"x":33.85,"y":760},{"x":33.9,"y":540},{"x":33.95,"y":800},
{"x":34,"y":460},{"x":34.05,"y":720},{"x":34.1,"y":580},{"x":34.15,"y":850},{"x":34.2,"y":420},{"x":34.25,"y":760},{"x":34.3,"y":550},{"x":34.35,"y":820},{"x":34.4,"y":470},{"x":34.45,"y":700},{"x":34.5,"y":600},{"x":34.55,"y":880},{"x":34.6,"y":450},{"x":34.65,"y":740},{"x":34.7,"y":560},{"x":34.75,"y":800},{"x":34.8,"y":440},{"x":34.85,"y":760},{"x":34.9,"y":580},{"x":34.95,"y":830},
{"x":35,"y":470},{"x":35.05,"y":720},{"x":35.1,"y":560},{"x":35.15,"y":860},{"x":35.2,"y":430},{"x":35.25,"y":750},{"x":35.3,"y":590},{"x":35.35,"y":810},{"x":35.4,"y":450},{"x":35.45,"y":700},{"x":35.5,"y":540},{"x":35.55,"y":840},{"x":35.6,"y":420},{"x":35.65,"y":730},{"x":35.7,"y":560},{"x":35.75,"y":790},{"x":35.8,"y":400},{"x":35.85,"y":700},{"x":35.9,"y":520},{"x":35.95,"y":780},
{"x":36,"y":420},{"x":36.05,"y":690},{"x":36.1,"y":520},{"x":36.15,"y":800},{"x":36.2,"y":400},{"x":36.25,"y":660},{"x":36.3,"y":540},{"x":36.35,"y":760},{"x":36.4,"y":380},{"x":36.45,"y":640},{"x":36.5,"y":320},{"x":36.55,"y":600},{"x":36.6,"y":460},{"x":36.65,"y":700},{"x":36.7,"y":500}]},
"mark":{"type":"line","strokeWidth":2.1},
"encoding":{"color":{"datum":"Si Kα1","type":"nominal"}}}
]
}
